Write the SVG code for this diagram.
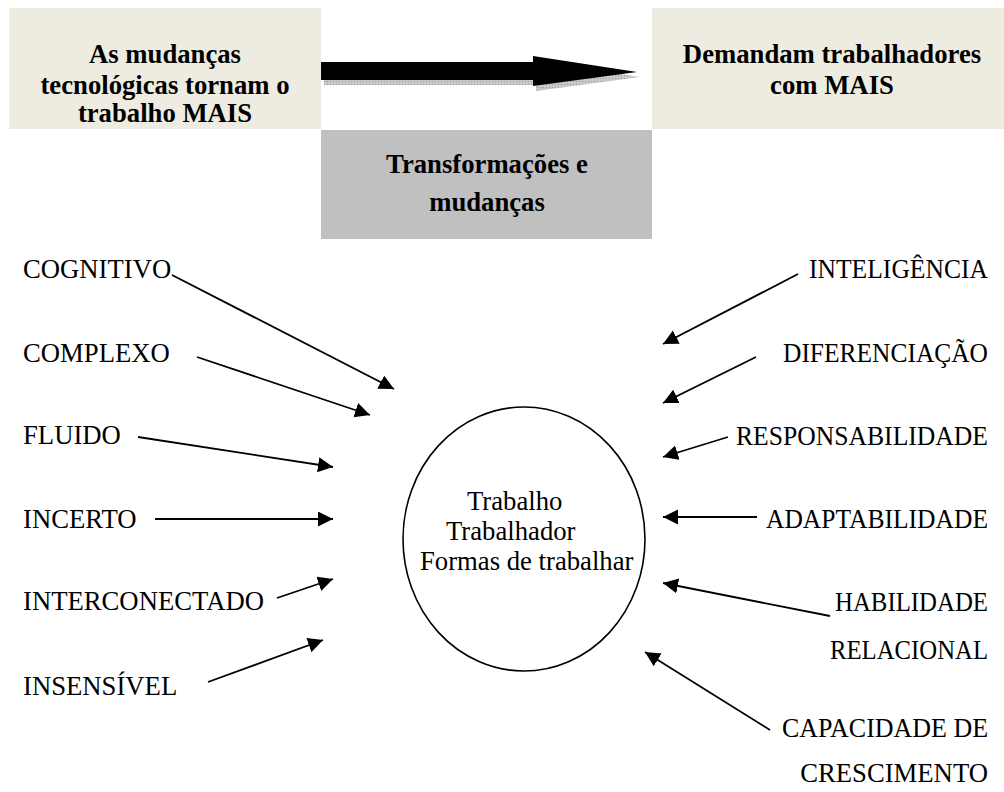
<svg xmlns="http://www.w3.org/2000/svg" width="1004" height="792" viewBox="0 0 1004 792">
<style>
.bx{font-family:"Liberation Serif","Times New Roman",serif;font-weight:bold;font-size:26.7px;fill:#000;text-anchor:middle}
.lb{font-family:"Liberation Serif","Times New Roman",serif;font-size:26.7px;fill:#000}
.rt{text-anchor:end}
.cn{stroke:#000;stroke-width:1.8;fill:none;marker-end:url(#ah)}
</style>
<defs>
<marker id="ah" markerUnits="userSpaceOnUse" markerWidth="16" markerHeight="16" refX="15" refY="7.5" orient="auto" viewBox="0 0 16 16">
<path d="M0,0 L15,7.5 L0,15 z" fill="#000"/>
</marker>
<pattern id="dots" width="3" height="3" patternUnits="userSpaceOnUse">
<rect width="3" height="3" fill="#C8C8C8"/>
<rect width="1" height="1" fill="#9A9A9A"/>
</pattern>
</defs>
<rect width="1004" height="792" fill="#fff"/>
<g id="box-left">
<rect x="9" y="8" width="312" height="121" fill="#EEECE1"/>
<text class="bx" x="165" y="63">As mudanças</text>
<text class="bx" x="165" y="94">tecnológicas tornam o</text>
<text class="bx" x="165" y="122">trabalho MAIS</text>
</g>
<g id="box-right">
<rect x="652" y="8" width="360" height="121" fill="#EEECE1"/>
<text class="bx" x="832" y="63">Demandam trabalhadores</text>
<text class="bx" x="832" y="94">com MAIS</text>
</g>
<g id="box-center">
<rect x="321" y="130" width="331" height="109" fill="#C0C0C0"/>
<text class="bx" x="487" y="173">Transformações e</text>
<text class="bx" x="487" y="211">mudanças</text>
</g>
<g id="big-arrow">
<path d="M324,67 L536,67 L536,61 L640,77 L536,91 L536,85 L324,85 z" fill="url(#dots)"/>
<path d="M321,62 L533,62 L533,56 L637,72 L533,86 L533,80 L321,80 z" fill="#000"/>
</g>
<g id="center">
<ellipse cx="524" cy="539" rx="121" ry="132" fill="#fff" stroke="#000" stroke-width="1.6"/>
<text class="lb" x="467" y="510">Trabalho</text>
<text class="lb" x="446" y="540">Trabalhador</text>
<text class="lb" x="420" y="570">Formas de trabalhar</text>
</g>
<g id="labels-left">
<text class="lb" x="23" y="278">COGNITIVO</text>
<text class="lb" x="23" y="362">COMPLEXO</text>
<text class="lb" x="23" y="444">FLUIDO</text>
<text class="lb" x="23" y="528">INCERTO</text>
<text class="lb" x="23" y="610">INTERCONECTADO</text>
<text class="lb" x="23" y="695">INSENSÍVEL</text>
</g>
<g id="labels-right">
<text class="lb rt" x="988" y="278" textLength="179" lengthAdjust="spacingAndGlyphs">INTELIGÊNCIA</text>
<text class="lb rt" x="988" y="362" textLength="205" lengthAdjust="spacingAndGlyphs">DIFERENCIAÇÃO</text>
<text class="lb rt" x="988" y="445" textLength="252" lengthAdjust="spacingAndGlyphs">RESPONSABILIDADE</text>
<text class="lb rt" x="988" y="528" textLength="222" lengthAdjust="spacingAndGlyphs">ADAPTABILIDADE</text>
<text class="lb rt" x="988" y="611" textLength="153" lengthAdjust="spacingAndGlyphs">HABILIDADE</text>
<text class="lb rt" x="988" y="659" textLength="158" lengthAdjust="spacingAndGlyphs">RELACIONAL</text>
<text class="lb rt" x="988" y="737" textLength="206" lengthAdjust="spacingAndGlyphs">CAPACIDADE DE</text>
<text class="lb rt" x="988" y="782">CRESCIMENTO</text>
</g>
<g id="connectors">
<line class="cn" x1="172" y1="275" x2="394" y2="389"/>
<line class="cn" x1="197" y1="357" x2="370" y2="415"/>
<line class="cn" x1="138" y1="437" x2="333" y2="467"/>
<line class="cn" x1="155" y1="519" x2="333" y2="519"/>
<line class="cn" x1="277" y1="598" x2="333" y2="579"/>
<line class="cn" x1="208" y1="682" x2="323" y2="640"/>
<line class="cn" x1="798" y1="274" x2="663" y2="344"/>
<line class="cn" x1="756" y1="357" x2="663" y2="403"/>
<line class="cn" x1="728" y1="437" x2="663" y2="457"/>
<line class="cn" x1="757" y1="517" x2="663" y2="517"/>
<line class="cn" x1="830" y1="616" x2="663" y2="583"/>
<line class="cn" x1="770" y1="730" x2="645" y2="652"/>
</g>
</svg>
